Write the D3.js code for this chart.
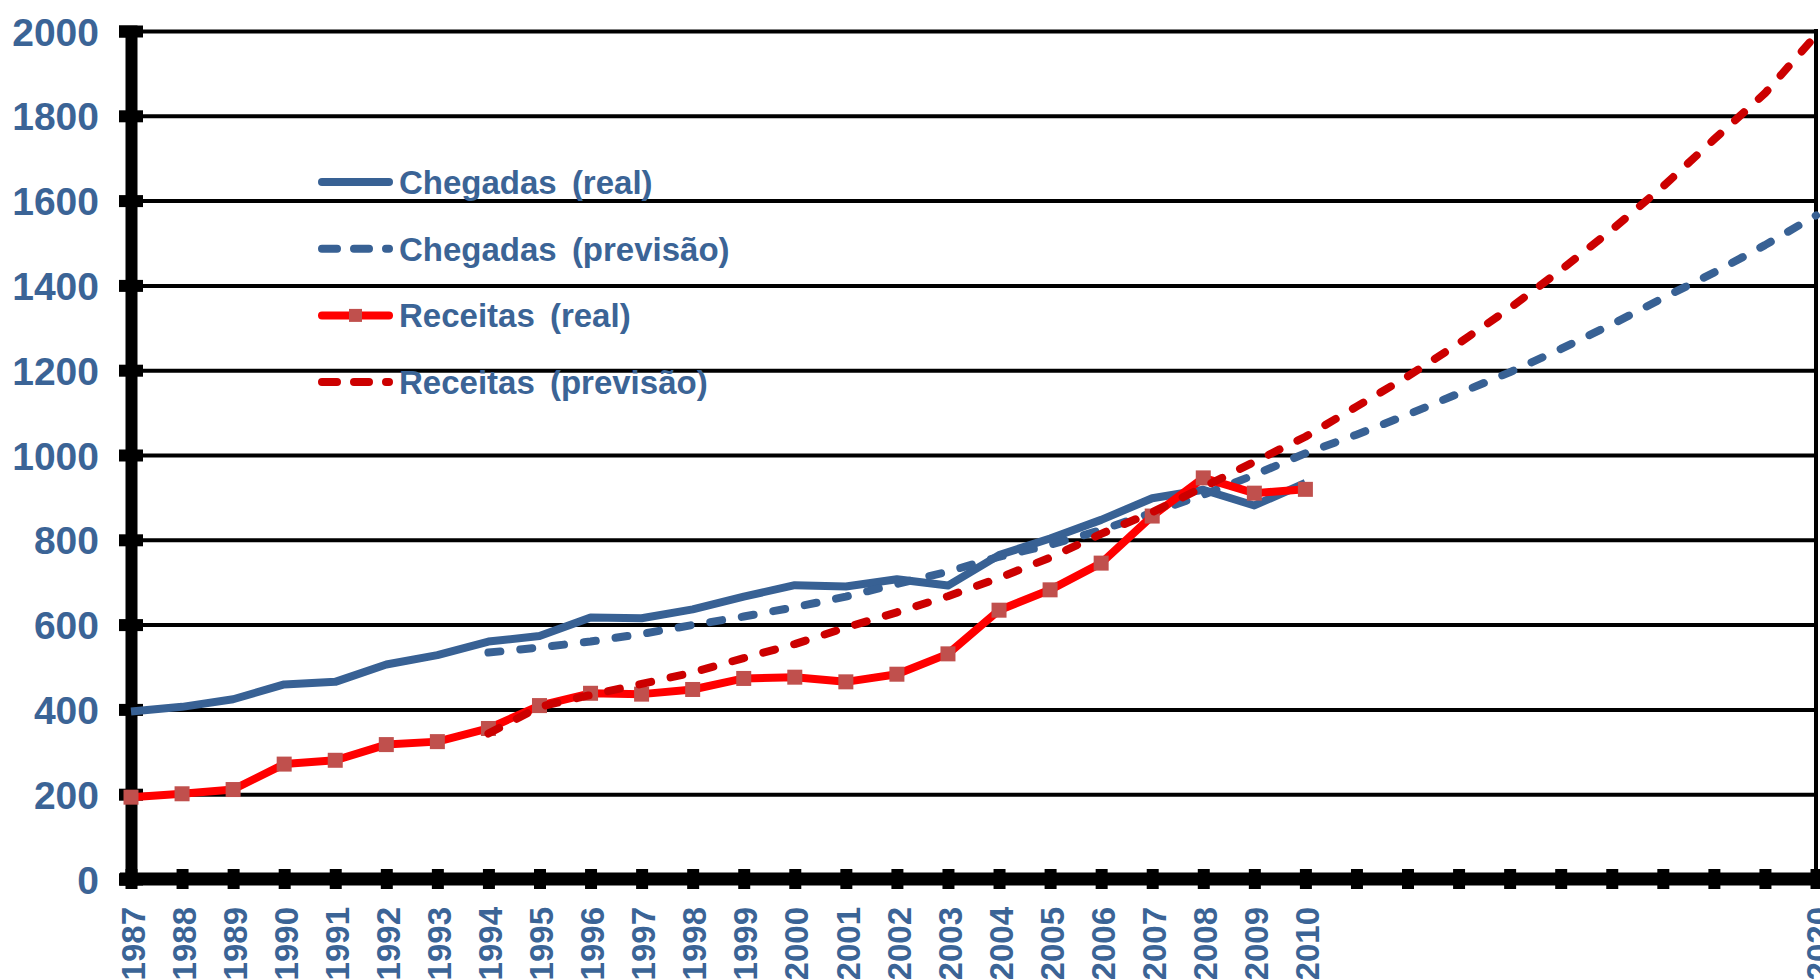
<!DOCTYPE html>
<html>
<head>
<meta charset="utf-8">
<script src="https://cdn.jsdelivr.net/npm/d3@7"></script>
<style>
  html, body { margin: 0; padding: 0; background: #ffffff; }
  svg { display: block; }
  text { font-family: "Liberation Sans", Arial, sans-serif; font-weight: bold; }
</style>
</head>
<body>
<svg id="chart" width="1820" height="979"></svg>
<script>
// Years with observed values
const realYears = [1987, 1988, 1989, 1990, 1991, 1992, 1993, 1994, 1995, 1996, 1997, 1998,
                   1999, 2000, 2001, 2002, 2003, 2004, 2005, 2006, 2007, 2008, 2009, 2010];
// Chegadas (real)
const chegadasReal = [395, 406, 424, 459, 465, 506, 528, 560, 573, 617, 615, 636,
                      666, 693, 690, 707, 692, 764, 803, 847, 898, 918, 881, 934];
// Receitas (real)
const receitasReal = [193, 201, 211, 271, 280, 317, 324, 355, 409, 438, 436, 447,
                      473, 476, 465, 483, 531, 634, 682, 745, 856, 946, 910, 919];

// Forecast horizon
const forecastYears = [1994, 1995, 1996, 1997, 1998, 1999, 2000, 2001, 2002, 2003, 2004,
                       2005, 2006, 2007, 2008, 2009, 2010, 2011, 2012, 2013, 2014, 2015,
                       2016, 2017, 2018, 2019, 2020];
// Chegadas (previsão)
const chegadasPrev = [534, 546, 560, 578, 599, 619, 641, 666, 696, 725, 760,
                      788, 823, 864, 906, 953, 1004, 1048, 1095, 1145, 1195, 1250,
                      1308, 1370, 1430, 1495, 1565];
// Receitas (previsão)
const receitasPrev = [343, 406, 434, 460, 487, 521, 554, 593, 629, 667, 710,
                      758, 814, 865, 924, 984, 1043, 1114, 1185, 1263, 1346, 1436,
                      1531, 1633, 1744, 1853, 1990];

// Axis ticks and labels
const yTicks = [0, 200, 400, 600, 800, 1000, 1200, 1400, 1600, 1800, 2000];
const xTickYears = [1987, 1988, 1989, 1990, 1991, 1992, 1993, 1994, 1995, 1996, 1997, 1998,
                    1999, 2000, 2001, 2002, 2003, 2004, 2005, 2006, 2007, 2008, 2009, 2010,
                    2011, 2012, 2013, 2014, 2015, 2016, 2017, 2018, 2019, 2020];
const xLabelYears = [1987, 1988, 1989, 1990, 1991, 1992, 1993, 1994, 1995, 1996, 1997, 1998,
                     1999, 2000, 2001, 2002, 2003, 2004, 2005, 2006, 2007, 2008, 2009, 2010,
                     2020];

const seriesNames = ["Chegadas (real)", "Chegadas (previsão)", "Receitas (real)", "Receitas (previsão)"];

const BLUE = "#386194";
const LABEL_BLUE = "#3b6496";
const RED = "#ff0000";
const DARK_RED = "#cc0000";
const MARKER = "#c0504d";
const LINE_W = 8;

const svg = d3.select("#chart");

const x = d3.scaleLinear().domain([1987, 2020]).range([131, 1816]);
const y = d3.scaleLinear().domain([0, 2000]).range([879, 31]);

// Horizontal gridlines
const grid = svg.append("g")
  .attr("transform", `translate(${x(1987)},0)`)
  .call(d3.axisLeft(y).tickValues(yTicks.filter(v => v > 0))
        .tickSize(-(x(2020) - x(1987))).tickFormat(""));
grid.select(".domain").remove();
grid.selectAll(".tick line").attr("stroke", "#000").attr("stroke-width", 4);

// Right border
svg.append("line")
  .attr("x1", x(2020)).attr("x2", x(2020))
  .attr("y1", y(2000) - 2).attr("y2", y(0))
  .attr("stroke", "#000").attr("stroke-width", 4);

// Y axis
const yAxis = svg.append("g")
  .attr("transform", `translate(${x(1987)},0)`)
  .call(d3.axisLeft(y).tickValues(yTicks).tickSizeOuter(0).tickSize(12).tickPadding(20)
        .tickFormat(d3.format("d")));
yAxis.select(".domain").attr("stroke", "#000").attr("stroke-width", 12);
yAxis.selectAll(".tick line").attr("x1", 12).attr("x2", -12)
  .attr("stroke", "#000").attr("stroke-width", 12);
yAxis.selectAll(".tick text")
  .attr("fill", LABEL_BLUE)
  .style("font-size", "39px")
  .attr("dy", "0.36em");

// X axis
const xAxis = svg.append("g")
  .attr("transform", `translate(0,${y(0)})`)
  .call(d3.axisBottom(x).tickValues(xTickYears).tickSizeOuter(0).tickSize(10)
        .tickFormat(d => xLabelYears.includes(d) ? String(d) : ""));
xAxis.select(".domain").attr("stroke", "#000").attr("stroke-width", 13)
  .attr("d", `M${x(1987) - 11},0H1820`);
xAxis.selectAll(".tick line").attr("y1", -10).attr("y2", 10)
  .attr("stroke", "#000").attr("stroke-width", 12);
xAxis.selectAll(".tick text")
  .attr("fill", LABEL_BLUE)
  .style("font-size", "33px")
  .attr("text-anchor", "end")
  .attr("transform", "rotate(-90)")
  .attr("x", -28)
  .attr("y", 0)
  .attr("dy", "0.40em");

const line = d3.line().x(d => x(d[0])).y(d => y(d[1]));
const zip = (a, b) => a.map((v, i) => [v, b[i]]);

const plot = svg.append("g");

// Chegadas (real)
plot.append("path")
  .datum(zip(realYears, chegadasReal))
  .attr("d", line)
  .attr("fill", "none").attr("stroke", BLUE).attr("stroke-width", LINE_W)
  .attr("stroke-linejoin", "round");

// Chegadas (previsão)
plot.append("path")
  .datum(zip(forecastYears, chegadasPrev))
  .attr("d", line)
  .attr("fill", "none").attr("stroke", BLUE).attr("stroke-width", LINE_W)
  .attr("stroke-linecap", "round").attr("stroke-linejoin", "round")
  .attr("stroke-dasharray", "12,20");

// Receitas (real)
plot.append("path")
  .datum(zip(realYears, receitasReal))
  .attr("d", line)
  .attr("fill", "none").attr("stroke", RED).attr("stroke-width", LINE_W)
  .attr("stroke-linejoin", "round");
plot.append("g").selectAll("rect")
  .data(zip(realYears, receitasReal))
  .join("rect")
  .attr("x", d => x(d[0]) - 7.5).attr("y", d => y(d[1]) - 7.5)
  .attr("width", 15).attr("height", 15)
  .attr("fill", MARKER);

// Receitas (previsão)
plot.append("path")
  .datum(zip(forecastYears, receitasPrev))
  .attr("d", line)
  .attr("fill", "none").attr("stroke", DARK_RED).attr("stroke-width", LINE_W)
  .attr("stroke-linecap", "round").attr("stroke-linejoin", "round")
  .attr("stroke-dasharray", "12,20");

// Legend
const legendRows = [
  { name: seriesNames[0], color: BLUE, dash: null, marker: false },
  { name: seriesNames[1], color: BLUE, dash: "15,17", marker: false },
  { name: seriesNames[2], color: RED, dash: null, marker: true },
  { name: seriesNames[3], color: DARK_RED, dash: "15,17", marker: false }
];
const legend = svg.append("g").attr("transform", "translate(322,182)");
const row = legend.selectAll("g").data(legendRows).join("g")
  .attr("transform", (d, i) => `translate(0,${i * 66.7})`);
row.append("line")
  .attr("x1", 0).attr("x2", 67).attr("y1", 0).attr("y2", 0)
  .attr("stroke", d => d.color).attr("stroke-width", 8)
  .attr("stroke-linecap", "round")
  .attr("stroke-dasharray", d => d.dash);
row.filter(d => d.marker).append("rect")
  .attr("x", 27).attr("y", -6.5).attr("width", 13).attr("height", 13)
  .attr("fill", MARKER);
row.append("text")
  .attr("x", 77).attr("y", 12)
  .attr("fill", LABEL_BLUE)
  .style("font-size", "33px")
  .style("word-spacing", "6px")
  .text(d => d.name);
</script>
</body>
</html>
